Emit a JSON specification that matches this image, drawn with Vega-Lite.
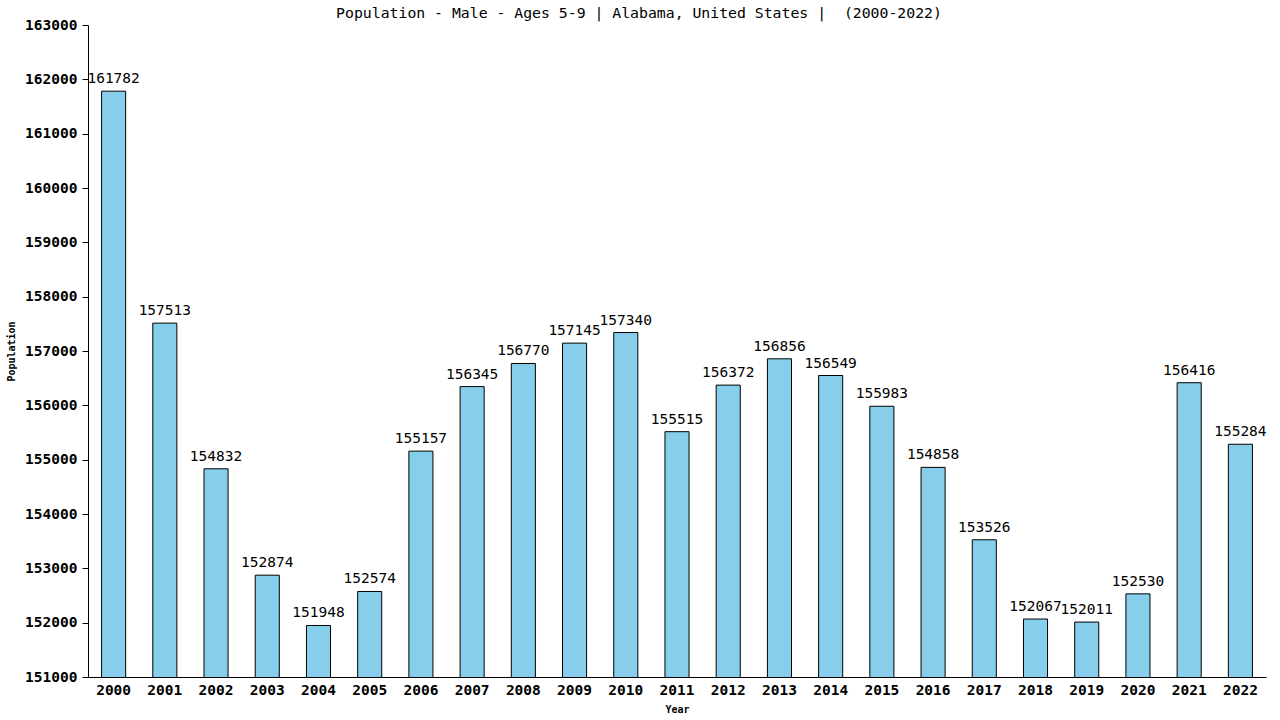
{
  "$schema": "https://vega.github.io/schema/vega-lite/v6.json",
  "width": 1178,
  "height": 652,
  "autosize": {"type": "none"},
  "padding": {"left": 88, "top": 25, "right": 14, "bottom": 43},
  "background": "white",
  "title": {
    "text": "Population - Male - Ages 5-9 | Alabama, United States | \u00a0(2000-2022)",
    "font": "DejaVu Sans Mono",
    "fontSize": 14.8,
    "fontWeight": "normal",
    "color": "black",
    "anchor": "middle",
    "dx": -38,
    "offset": -4
  },
  "data": {
    "values": [
      {"year": "2000", "population": 161782},
      {"year": "2001", "population": 157513},
      {"year": "2002", "population": 154832},
      {"year": "2003", "population": 152874},
      {"year": "2004", "population": 151948},
      {"year": "2005", "population": 152574},
      {"year": "2006", "population": 155157},
      {"year": "2007", "population": 156345},
      {"year": "2008", "population": 156770},
      {"year": "2009", "population": 157145},
      {"year": "2010", "population": 157340},
      {"year": "2011", "population": 155515},
      {"year": "2012", "population": 156372},
      {"year": "2013", "population": 156856},
      {"year": "2014", "population": 156549},
      {"year": "2015", "population": 155983},
      {"year": "2016", "population": 154858},
      {"year": "2017", "population": 153526},
      {"year": "2018", "population": 152067},
      {"year": "2019", "population": 152011},
      {"year": "2020", "population": 152530},
      {"year": "2021", "population": 156416},
      {"year": "2022", "population": 155284}
    ]
  },
  "view": {"stroke": null},
  "encoding": {
    "x": {
      "field": "year",
      "type": "ordinal",
      "title": "Year",
      "scale": {"paddingInner": 0.53, "paddingOuter": 0.265},
      "axis": {
        "labelAngle": 0,
        "labelFont": "DejaVu Sans Mono",
        "labelFontSize": 14.5,
        "labelFontWeight": "bold",
        "labelColor": "black",
        "labelPadding": 6,
        "ticks": false,
        "domainColor": "black",
        "titleFont": "DejaVu Sans Mono",
        "titleFontSize": 10,
        "titleFontWeight": "bold",
        "titleColor": "black",
        "titlePadding": 8
      }
    },
    "y": {
      "field": "population",
      "type": "quantitative",
      "title": "Population",
      "scale": {"domain": [151000, 163000], "zero": false, "nice": false},
      "axis": {
        "values": [151000, 152000, 153000, 154000, 155000, 156000, 157000, 158000, 159000, 160000, 161000, 162000, 163000],
        "format": "d",
        "grid": false,
        "labelFont": "DejaVu Sans Mono",
        "labelFontSize": 14.5,
        "labelFontWeight": "bold",
        "labelColor": "black",
        "labelPadding": 5,
        "tickSize": 6,
        "tickColor": "black",
        "domainColor": "black",
        "titleFont": "DejaVu Sans Mono",
        "titleFontSize": 10,
        "titleFontWeight": "bold",
        "titleColor": "black",
        "titlePadding": 8
      }
    }
  },
  "layer": [
    {
      "mark": {"type": "bar", "color": "#87ceeb", "stroke": "black", "strokeWidth": 1, "clip": true},
      "encoding": {}
    },
    {
      "mark": {"type": "text", "baseline": "bottom", "dy": -5, "font": "DejaVu Sans Mono", "fontSize": 14.5, "color": "black"},
      "encoding": {"text": {"field": "population", "type": "quantitative", "format": "d"}}
    }
  ]
}
